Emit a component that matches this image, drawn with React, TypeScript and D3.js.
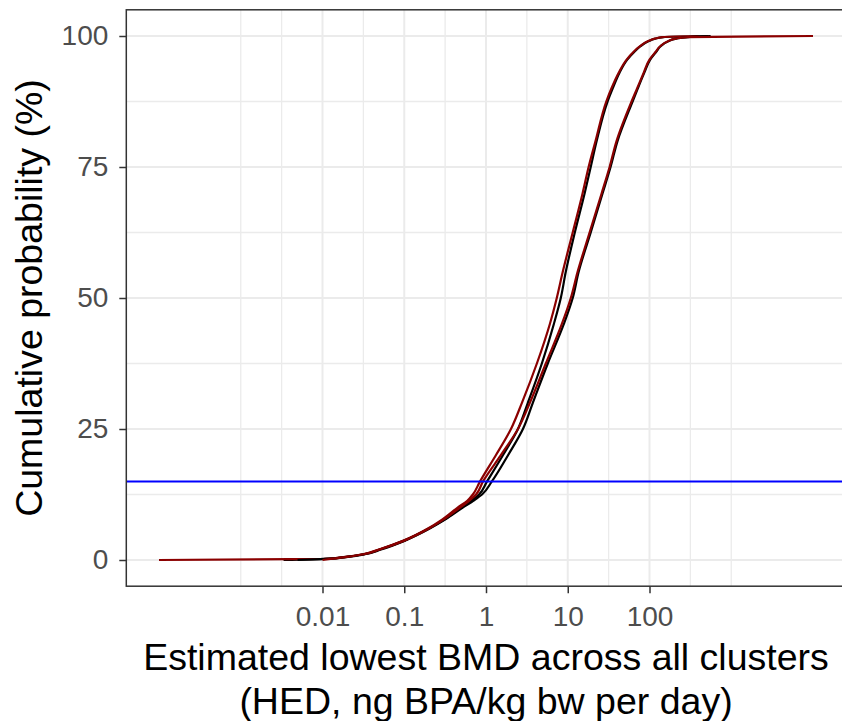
import React, { useEffect, useRef } from 'react';
import * as d3 from 'd3';

// cumulative probability (%) at which each quantile below was read
const probs = [0, 0.2, 0.6, 1.1, 2, 3.7, 6, 7.7, 10, 11.3, 12.5, 15, 20, 25, 30, 37.5, 45, 50, 55, 62.5, 70, 75, 80, 87.5, 90, 93, 95.5, 97, 98, 99, 99.5, 99.8, 100];

// estimated lowest BMD (HED, ng BPA/kg bw per day) at those probabilities
const redA = [0.0001, 0.0105, 0.019, 0.031, 0.049, 0.098, 0.195, 0.29, 0.45, 0.59, 0.69, 0.845, 1.32, 2.02, 2.75, 4.19, 6.03, 7.34, 8.69, 11.5, 15.2, 18.0, 21.9, 29.6, 34.2, 42, 52.5, 64, 76, 95, 116, 145, 400];
const blackA = [0.00334, 0.0108, 0.0195, 0.032, 0.05, 0.1, 0.2, 0.31, 0.495, 0.66, 0.822, 1.03, 1.61, 2.46, 3.25, 4.82, 6.75, 8.22, 9.46, 12.2, 16.1, 19.1, 22.6, 30.7, 35.5, 43, 53.5, 65.5, 77, 97, 118, 148, 560];
const redB = [0.01, 0.0125, 0.02, 0.032, 0.05, 0.1, 0.2, 0.3, 0.48, 0.62, 0.755, 0.919, 1.52, 2.46, 3.44, 5.39, 8.45, 10.9, 13.2, 18.5, 26.0, 32.5, 39.6, 60.3, 70.5, 85, 100, 119, 134, 168, 210, 295, 10000];
const blackB = [0.00495, 0.011, 0.0205, 0.033, 0.052, 0.102, 0.205, 0.315, 0.52, 0.7, 0.894, 1.18, 1.86, 2.83, 3.74, 5.7, 8.94, 11.5, 13.6, 19.1, 26.7, 33.4, 40.7, 62.1, 72, 86.5, 102, 121, 136, 170, 213, 300, 520];

const xBreaks = [0.01, 0.1, 1, 10, 100];
const xLabels = ['0.01', '0.1', '1', '10', '100'];
const yBreaks = [0, 25, 50, 75, 100];
const threshold = 15;

export default function App() {
  const ref = useRef<SVGSVGElement>(null);

  useEffect(() => {
    const svg = d3.select(ref.current);
    svg.selectAll('*').remove();
    const width = 842;
    const height = 721;
    const font = 'Liberation Sans, Arial, sans-serif';

    // log x; panel padded by 5% of the data range like ggplot
    const x = d3.scaleLog().domain([1e-4, 1e4]).range([159, 813]);
    const y = d3.scaleLinear().domain([0, 100]).range([560, 36]);
    const left = x(10 ** -4.4);
    const right = x(10 ** 4.4);
    const top = y(105);
    const bottom = y(-5);

    const grid = svg.append('g');
    const isMajor = (v: number) => xBreaks.some((b) => Math.abs(Math.log10(b) - Math.log10(v)) < 1e-6);
    const xMinor = d3.range(-3, 3.01, 0.5).map((e) => 10 ** e).filter((v) => !isMajor(v));
    const yMinor = [12.5, 37.5, 62.5, 87.5];
    grid.selectAll('.xm').data(xMinor).join('line')
      .attr('x1', (d) => x(d)).attr('x2', (d) => x(d)).attr('y1', top).attr('y2', bottom)
      .attr('stroke', '#ebebeb').attr('stroke-width', 1.3);
    grid.selectAll('.ym').data(yMinor).join('line')
      .attr('x1', left).attr('x2', right).attr('y1', (d) => y(d)).attr('y2', (d) => y(d))
      .attr('stroke', '#ebebeb').attr('stroke-width', 1.3);
    grid.selectAll('.xM').data(xBreaks).join('line')
      .attr('x1', (d) => x(d)).attr('x2', (d) => x(d)).attr('y1', top).attr('y2', bottom)
      .attr('stroke', '#ebebeb').attr('stroke-width', 2);
    grid.selectAll('.yM').data(yBreaks).join('line')
      .attr('x1', left).attr('x2', right).attr('y1', (d) => y(d)).attr('y2', (d) => y(d))
      .attr('stroke', '#ebebeb').attr('stroke-width', 2);

    const line = d3.line<number>()
      .x((d) => x(d))
      .y((_, i) => y(probs[i]))
      .curve(d3.curveMonotoneY);

    const series = [
      { v: blackA, c: '#000000' },
      { v: redA, c: '#8b0000' },
      { v: blackB, c: '#000000' },
      { v: redB, c: '#8b0000' },
    ];
    series.forEach((s) => {
      svg.append('path')
        .datum(s.v)
        .attr('fill', 'none')
        .attr('stroke', s.c)
        .attr('stroke-width', 2.2)
        .attr('stroke-linejoin', 'round')
        .attr('d', line);
    });

    svg.append('line')
      .attr('x1', left).attr('x2', right)
      .attr('y1', y(threshold)).attr('y2', y(threshold))
      .attr('stroke', '#0000ff').attr('stroke-width', 2);

    svg.append('rect')
      .attr('x', left).attr('y', top)
      .attr('width', right - left).attr('height', bottom - top)
      .attr('fill', 'none').attr('stroke', '#333333').attr('stroke-width', 1.5);

    const xAxis = d3.axisBottom(x).tickValues(xBreaks).tickFormat((_, i) => xLabels[i]).tickSize(7).tickPadding(13);
    const yAxis = d3.axisLeft(y).tickValues(yBreaks).tickSize(7).tickPadding(11);

    const gx = svg.append('g').attr('transform', `translate(0,${bottom})`).call(xAxis);
    const gy = svg.append('g').attr('transform', `translate(${left},0)`).call(yAxis);
    [gx, gy].forEach((g) => {
      g.select('.domain').remove();
      g.selectAll('.tick line').attr('stroke', '#333333').attr('stroke-width', 1.5);
      g.selectAll('.tick text')
        .attr('fill', '#4d4d4d')
        .attr('font-size', 28)
        .attr('font-family', font);
    });

    const cx = (left + right) / 2;
    svg.append('text')
      .attr('x', cx).attr('y', 670)
      .attr('text-anchor', 'middle').attr('font-size', 37.5).attr('font-family', font)
      .text('Estimated lowest BMD across all clusters');
    svg.append('text')
      .attr('x', cx).attr('y', 714)
      .attr('text-anchor', 'middle').attr('font-size', 37.5).attr('font-family', font)
      .text('(HED, ng BPA/kg bw per day)');
    svg.append('text')
      .attr('transform', `translate(42,${(top + bottom) / 2}) rotate(-90)`)
      .attr('text-anchor', 'middle').attr('font-size', 37.5).attr('font-family', font)
      .text('Cumulative probability (%)');

    svg.attr('width', width).attr('height', height);
  }, []);

  return (
    <>
      <style>{'body{margin:0;overflow:hidden}'}</style>
      <svg ref={ref} style={{ display: 'block', background: '#ffffff' }}></svg>
    </>
  );
}
